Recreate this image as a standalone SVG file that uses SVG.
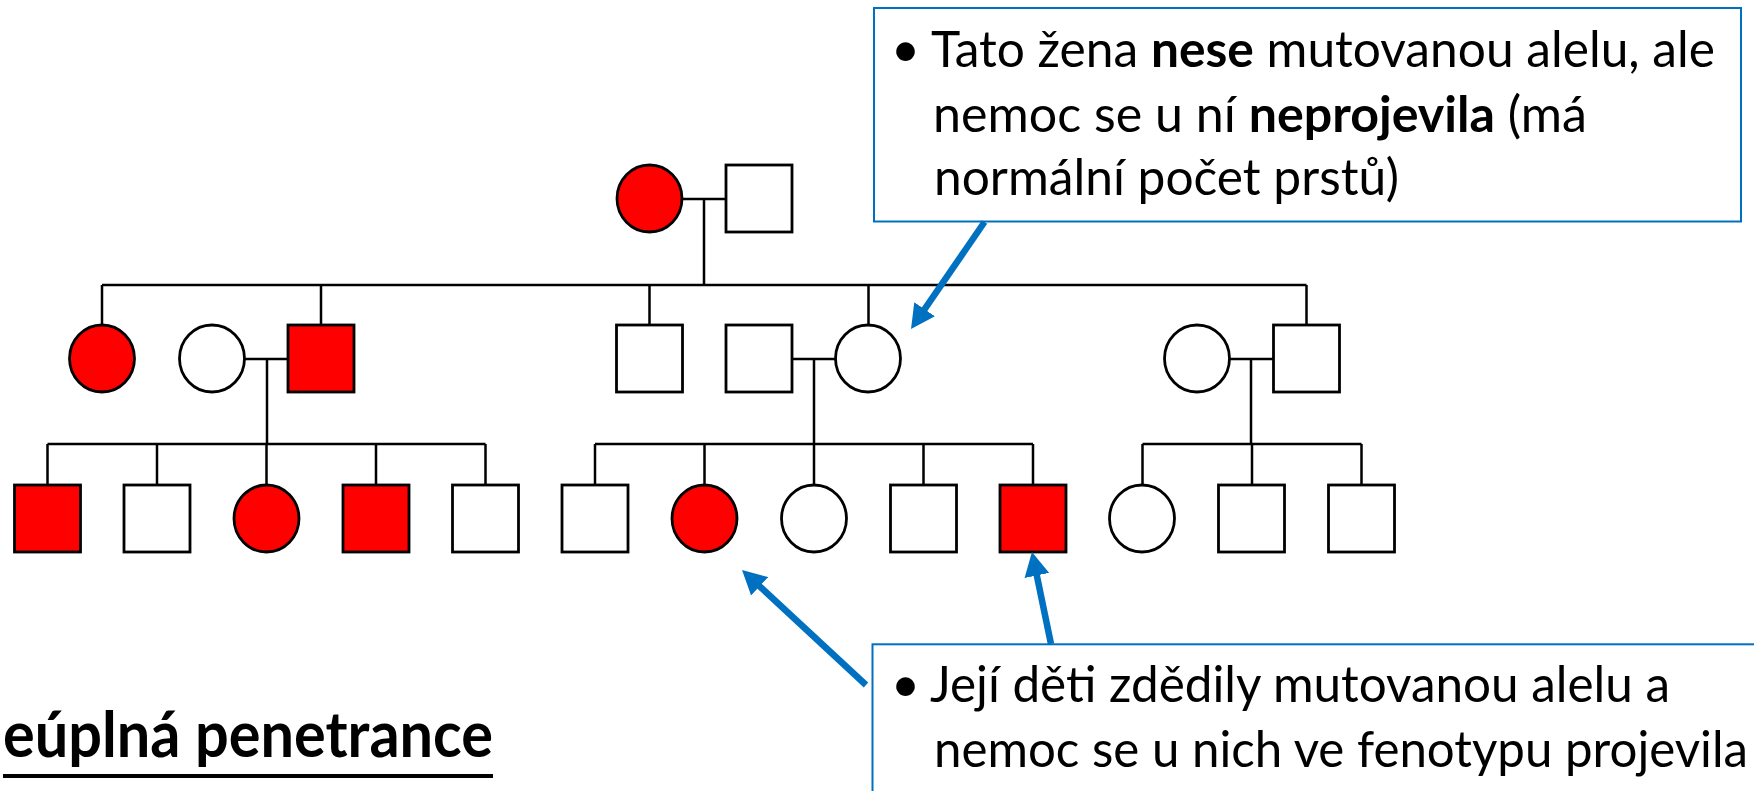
<svg xmlns="http://www.w3.org/2000/svg" width="1754" height="791" viewBox="0 0 1754 791">
<style>
.m{fill:#fff;stroke:#000;stroke-width:2.8}
.a{fill:#f00;stroke:#000;stroke-width:2.8}
.ln{stroke:#000;stroke-width:2.5;fill:none}
.box{fill:#fff;stroke:#0070C0;stroke-width:2}
.arr{stroke:#0070C0;stroke-width:6.5;fill:none;marker-end:url(#ah)}
.t{font-family:Lato,"Open Sans","Liberation Sans",sans-serif;font-size:50px;fill:#000}
.b{font-weight:bold}
</style>
<defs>
<marker id="ah" viewBox="0 0 24 25" markerWidth="24" markerHeight="25" refX="6" refY="12.5" orient="auto" markerUnits="userSpaceOnUse">
<path d="M0,0 L24,12.5 L0,25 z" fill="#0070C0"/>
</marker>
</defs>
<rect width="1754" height="791" fill="#fff"/>
<g id="connectors">
<path class="ln" d="M682,199 H726 M704,199 V285 M102,285 H1306.5 M102,285 V325 M321,285 V325 M649.5,285 V325 M868.5,285 V325 M1306.5,285 V325"/>
<path class="ln" d="M245,359 H288 M267,359 V444 M47.5,444 H485.5 M47.5,444 V485 M157,444 V485 M266.5,444 V485 M376,444 V485 M485.5,444 V485"/>
<path class="ln" d="M792,359 H835 M814,359 V444 M595,444 H1033 M595,444 V485 M704.5,444 V485 M814,444 V485 M923.5,444 V485 M1033,444 V485"/>
<path class="ln" d="M1230,359 H1273 M1251,359 V444 M1142.5,444 H1361.5 M1142.5,444 V485 M1252,444 V485 M1361.5,444 V485"/>
</g>
<g id="gen1">
<g id="g1f"><ellipse class="a" cx="649.5" cy="198.5" rx="32.5" ry="33.5"/></g>
<g id="g1m"><rect class="m" x="726" y="165" width="66" height="67"/></g>
</g>
<g id="gen2">
<g id="g2a"><ellipse class="a" cx="102" cy="358.5" rx="32.5" ry="33.5"/></g>
<g id="g2b"><ellipse class="m" cx="212" cy="358.5" rx="32.5" ry="33.5"/></g>
<g id="g2c"><rect class="a" x="288" y="325" width="66" height="67"/></g>
<g id="g2d"><rect class="m" x="616.5" y="325" width="66" height="67"/></g>
<g id="g2e"><rect class="m" x="726" y="325" width="66" height="67"/></g>
<g id="g2f"><ellipse class="m" cx="868" cy="358.5" rx="32.5" ry="33.5"/></g>
<g id="g2g"><ellipse class="m" cx="1197" cy="358.5" rx="32.5" ry="33.5"/></g>
<g id="g2h"><rect class="m" x="1273.5" y="325" width="66" height="67"/></g>
</g>
<g id="gen3">
<g id="g3a"><rect class="a" x="14.5" y="485" width="66" height="67"/></g>
<g id="g3b"><rect class="m" x="124" y="485" width="66" height="67"/></g>
<g id="g3c"><ellipse class="a" cx="266.5" cy="518.5" rx="32.5" ry="33.5"/></g>
<g id="g3d"><rect class="a" x="343" y="485" width="66" height="67"/></g>
<g id="g3e"><rect class="m" x="452.5" y="485" width="66" height="67"/></g>
<g id="g3f"><rect class="m" x="562" y="485" width="66" height="67"/></g>
<g id="g3g"><ellipse class="a" cx="704.5" cy="518.5" rx="32.5" ry="33.5"/></g>
<g id="g3h"><ellipse class="m" cx="814" cy="518.5" rx="32.5" ry="33.5"/></g>
<g id="g3i"><rect class="m" x="890.5" y="485" width="66" height="67"/></g>
<g id="g3j"><rect class="a" x="1000" y="485" width="66" height="67"/></g>
<g id="g3k"><ellipse class="m" cx="1142" cy="518.5" rx="32.5" ry="33.5"/></g>
<g id="g3l"><rect class="m" x="1218.5" y="485" width="66" height="67"/></g>
<g id="g3m"><rect class="m" x="1328.5" y="485" width="66" height="67"/></g>
</g>
<g id="callout-top">
<rect class="box" x="874" y="8" width="867" height="213.5"/>
<text class="t" x="905.5" y="66.7" text-anchor="middle">•</text>
<text class="t" x="931" y="66.7" textLength="784" lengthAdjust="spacingAndGlyphs">Tato žena <tspan class="b">nese</tspan> mutovanou alelu, ale</text>
<text class="t" x="933" y="131.7" textLength="654" lengthAdjust="spacingAndGlyphs">nemoc se u ní <tspan class="b">neprojevila</tspan> (má</text>
<text class="t" x="934" y="195" textLength="465" lengthAdjust="spacingAndGlyphs">normální počet prstů)</text>
</g>
<g id="callout-bottom">
<rect class="box" x="872.5" y="644.3" width="900" height="200"/>
<text class="t" x="905.5" y="701.7" text-anchor="middle">•</text>
<text class="t" x="930" y="701.7" textLength="740" lengthAdjust="spacingAndGlyphs">Její děti zdědily mutovanou alelu a</text>
<text class="t" x="934" y="766.7" textLength="814" lengthAdjust="spacingAndGlyphs">nemoc se u nich ve fenotypu projevila</text>
</g>
<g id="arrows">
<line class="arr" x1="984.5" y1="222" x2="921.2" y2="314.2"/>
<line class="arr" x1="866" y1="685" x2="755.2" y2="582.2"/>
<line class="arr" x1="1051" y1="644" x2="1035.6" y2="569.6"/>
</g>
<g id="title">
<text class="t b" x="3" y="756.7" style="font-size:64px" textLength="490" lengthAdjust="spacingAndGlyphs">eúplná penetrance</text>
<rect x="3" y="774" width="490" height="4" fill="#000"/>
</g>
</svg>
